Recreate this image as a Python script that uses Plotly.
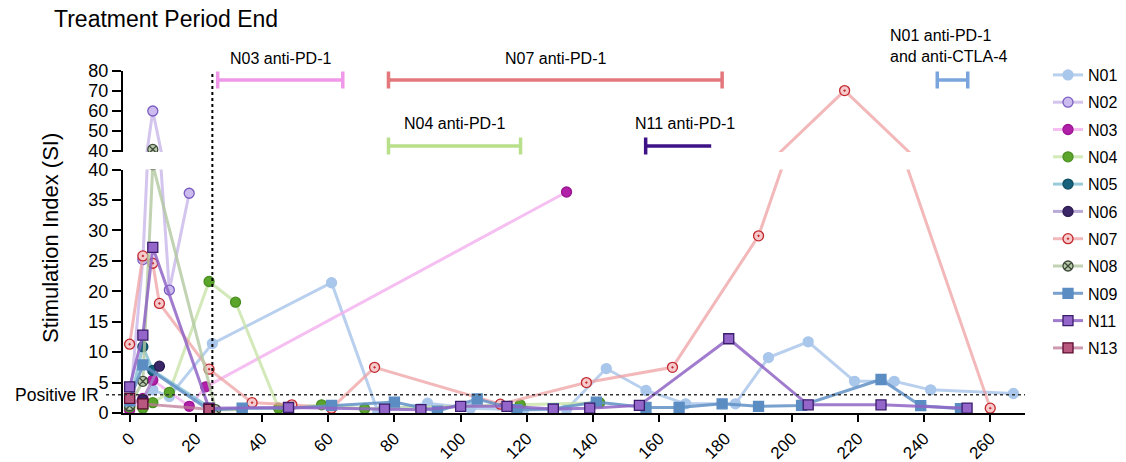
import plotly.graph_objects as go

# ---------------- data ----------------
N01_x = [0, 7, 12, 25, 61, 75, 90, 103, 119, 132, 144, 156, 168, 183, 193, 205, 219, 231, 242, 267]
N01_y = [1.3, 3.8, 2.7, 11.4, 21.4, 0.2, 1.6, 0.8, 0.5, 0.6, 7.3, 3.7, 1.5, 1.5, 9.1, 11.7, 5.2, 5.2, 3.8, 3.2]
N02_x = [0, 4, 7, 12, 18]
N02_y = [1.1, 25.2, 60, 20.2, 36.1]
N03_x = [0, 4, 7, 18, 23, 132]
N03_y = [0.5, 2.4, 5.4, 1.1, 4.3, 36.3]
N04_x = [0, 4, 7, 12, 24, 32, 45, 58, 71, 118, 142]
N04_y = [1.0, 0.8, 1.7, 3.4, 21.6, 18.2, 0.8, 1.35, 0.7, 1.35, 1.7]
N05_x = [0, 4, 7, 25]
N05_y = [1.5, 10.9, 7.0, 0.6]
N06_x = [0, 4, 9]
N06_y = [1.6, 2.2, 7.7]
N07_x = [0, 4, 7, 9, 24, 37, 49, 61, 74, 112, 138, 164, 190, 216, 260]
N07_y = [11.3, 25.8, 24.6, 18.0, 7.2, 1.7, 1.35, 0.8, 7.5, 1.45, 5.0, 7.5, 29.1, 70.2, 0.8]
N08_x = [0, 4, 7, 26, 34]
N08_y = [1.2, 5.2, 40.8, 0.55, 0.55]
N09_x = [0, 4, 24, 34, 48, 61, 80, 93, 105, 117, 128, 141, 156, 166, 179, 190, 203, 227, 239, 251]
N09_y = [2.0, 7.9, 0.5, 0.8, 0.8, 1.25, 1.8, 0.3, 2.3, 0.55, 0.7, 1.8, 0.9, 0.9, 1.5, 1.1, 1.25, 5.5, 1.2, 0.7]
N11_x = [0, 4, 7, 24, 48, 77, 88, 100, 114, 128, 139, 154, 181, 205, 227, 253]
N11_y = [4.3, 12.8, 27.2, 0.8, 0.9, 0.65, 0.55, 1.1, 1.1, 0.65, 0.8, 1.25, 12.2, 1.35, 1.35, 0.8]
N13_x = [0, 4, 24]
N13_y = [2.4, 1.5, 0.6]

x_ticks = [0, 20, 40, 60, 80, 100, 120, 140, 160, 180, 200, 220, 240, 260]
y_low_ticks = [0, 5, 10, 15, 20, 25, 30, 35, 40]
y_high_ticks = [40, 50, 60, 70, 80]

positive_ir = 3
treatment_end = 25

# treatment bars: (label, x start, x end, row, color, right cap)
bars = [
    ("N03 anti-PD-1", 26.6, 64.4, 0, "#ef97e9", True),
    ("N07 anti-PD-1", 78.2, 179.0, 0, "#e3777c", True),
    ("N04 anti-PD-1", 78.2, 118.1, 1, "#b8df8a", True),
    ("N11 anti-PD-1", 155.9, 175.7, 1, "#3e1286", False),
    ("N01 anti-PD-1<br>and anti-CTLA-4", 244.0, 253.2, 0, "#79a4dc", True),
]

series = [
    ("N01", N01_x, N01_y, "circle", "#a9c6eb", "#a9c6eb", "rgba(160,192,232,0.75)"),
    ("N02", N02_x, N02_y, "circle", "#cbbbee", "#7a5cc0", "rgba(196,178,232,0.75)"),
    ("N03", N03_x, N03_y, "circle", "#b21fa8", "#9a1592", "rgba(242,176,238,0.8)"),
    ("N04", N04_x, N04_y, "circle", "#5ba52b", "#4a8f22", "rgba(200,228,168,0.8)"),
    ("N05", N05_x, N05_y, "circle", "#17617c", "#0f4d63", "rgba(120,185,210,0.75)"),
    ("N06", N06_x, N06_y, "circle", "#3b2767", "#2a1a50", "rgba(160,140,200,0.75)"),
    ("N07", N07_x, N07_y, "circle-dot", "#f6c9cb", "#c1272d", "rgba(238,160,163,0.75)"),
    ("N08", N08_x, N08_y, "circle-x", "#b7c9a8", "#3e4a3a", "rgba(178,200,160,0.8)"),
    ("N09", N09_x, N09_y, "square", "#5b8dc3", "#5b8dc3", "rgba(98,145,197,0.85)"),
    ("N11", N11_x, N11_y, "square", "#9566c9", "#3a1d6c", "rgba(143,100,198,0.85)"),
    ("N13", N13_x, N13_y, "square", "#b8587f", "#5a0b30", "rgba(190,120,150,0.75)"),
]

# ---------------- layout geometry ----------------
W, H = 1126, 462
ML, MR, MT, MB = 123, 101, 71, 49
PW, PH = W - ML - MR, H - MT - MB


def xp(px):
    return (px - ML) / PW


def yp(py):
    return (H - MB - py) / PH


font = "Liberation Sans, Arial, sans-serif"

fig = go.Figure()
for name, xs, ys, sym, fill, edge, lc in series:
    for ax in ("y", "y2"):
        fig.add_trace(go.Scatter(
            x=xs, y=ys, mode="lines+markers", name=name,
            legendgroup=name, showlegend=(ax == "y"),
            xaxis="x", yaxis=ax,
            line=dict(color=lc, width=3),
            marker=dict(symbol=sym, size=10, color=fill,
                        line=dict(color=edge, width=1.3)),
        ))

shapes = []
annotations = []
# vertical dotted treatment end line
shapes.append(dict(type="line", xref="x", yref="paper", x0=treatment_end, x1=treatment_end,
                   y0=0, y1=1, line=dict(color="black", width=2, dash="dot")))
# positive IR threshold
shapes.append(dict(type="line", xref="paper", yref="y", x0=xp(106), x1=1,
                   y0=positive_ir, y1=positive_ir,
                   line=dict(color="#333333", width=1.5, dash="dot")))

row_py = [80, 146]
cap = 8.5
for label, x0, x1, row, color, rcap in bars:
    py = row_py[row]
    shapes.append(dict(type="line", xref="x", yref="paper", x0=x0, x1=x1,
                       y0=yp(py), y1=yp(py), line=dict(color=color, width=3.5)))
    shapes.append(dict(type="line", xref="x", yref="paper", x0=x0, x1=x0,
                       y0=yp(py - cap), y1=yp(py + cap), line=dict(color=color, width=3.5)))
    if rcap:
        shapes.append(dict(type="line", xref="x", yref="paper", x0=x1, x1=x1,
                           y0=yp(py - cap), y1=yp(py + cap), line=dict(color=color, width=3.5)))
    if "<br>" in label:
        annotations.append(dict(text=label, xref="paper", yref="paper", x=xp(888), y=yp(46),
                                xanchor="left", yanchor="middle", align="left", showarrow=False,
                                font=dict(size=16, color="black", family=font)))
    else:
        cx = (x0 + x1) / 2 if rcap else x0 + 12
        annotations.append(dict(text=label, xref="x", yref="paper", x=cx,
                                y=yp(py - 22), xanchor="center", yanchor="middle", showarrow=False,
                                font=dict(size=16, color="black", family=font)))

annotations.append(dict(text="Treatment Period End", xref="paper", yref="paper",
                        x=xp(166), y=yp(19), xanchor="center", yanchor="middle", showarrow=False,
                        font=dict(size=23, color="black", family=font)))
annotations.append(dict(text="Stimulation Index (SI)", xref="paper", yref="paper",
                        x=xp(50), y=yp(238), xanchor="center", yanchor="middle", textangle=-90,
                        showarrow=False, font=dict(size=22, color="black", family=font)))
annotations.append(dict(text="Positive IR", xref="paper", yref="y", x=xp(101), y=positive_ir,
                        xanchor="right", yanchor="middle", showarrow=False,
                        font=dict(size=17.5, color="black", family=font)))

axis_common = dict(showline=True, linecolor="black", linewidth=2, ticks="outside",
                   tickcolor="black", tickwidth=2, showgrid=False, zeroline=False,
                   automargin=False)
tf = dict(color="black", family=font)

low_top = yp(169.5)
high_bottom = yp(151.0 + 1.02)

fig.update_layout(
    width=W, height=H,
    margin=dict(l=ML, r=MR, t=MT, b=MB),
    paper_bgcolor="white", plot_bgcolor="white",
    font=dict(family=font, color="black"),
    showlegend=True,
    legend=dict(xref="container", yref="container", x=1048 / W, y=1 - 58 / H,
                xanchor="left", yanchor="top", maxheight=400,
                font=dict(size=16, family=font, color="black"),
                tracegroupgap=3.5, bgcolor="rgba(0,0,0,0)", itemwidth=30),
    xaxis=dict(range=[-2, 270.5], tickvals=x_ticks, tickangle=-45, anchor="y",
               ticklen=7, tickfont=dict(size=17, **tf), **axis_common),
    yaxis=dict(domain=[0, low_top], range=[0, 40], tickvals=y_low_ticks, anchor="x",
               ticklen=9, tickfont=dict(size=18, **tf), **axis_common),
    yaxis2=dict(domain=[high_bottom, 1], range=[39.5, 80], tickvals=y_high_ticks, anchor="x",
                ticklen=9, tickfont=dict(size=18, **tf), **axis_common),
    shapes=shapes,
    annotations=annotations,
)

fig.write_html("out.html", config={"displayModeBar": False},
               post_script="document.body.style.margin='0';document.body.style.overflow='hidden';")
